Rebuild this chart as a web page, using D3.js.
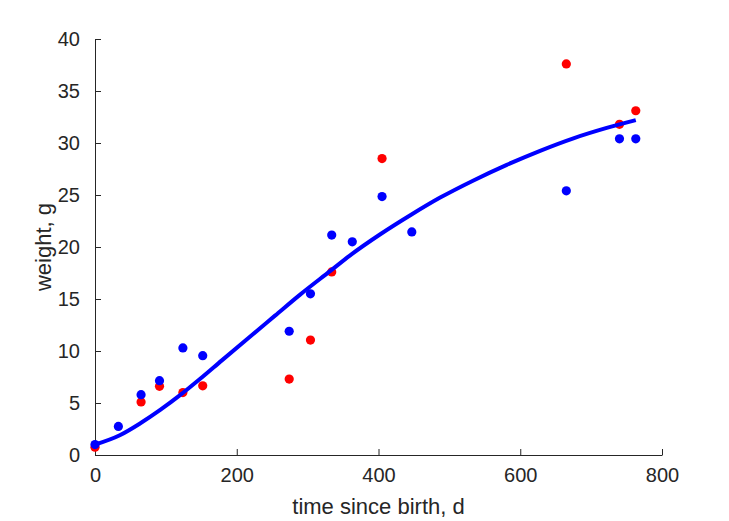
<!DOCTYPE html>
<html>
<head>
<meta charset="utf-8">
<script src="https://cdn.jsdelivr.net/npm/d3@7"></script>
<style>
  html, body { margin: 0; padding: 0; background: #ffffff; }
  svg { display: block; }
</style>
</head>
<body>
<svg id="chart" width="729" height="521"></svg>
<script>
// ---- data ----
const redDays    = [0, 65, 91, 124, 152, 274, 304, 334, 405, 665, 740, 763];
const redWeight  = [0.75, 5.1, 6.6, 6.0, 6.65, 7.3, 11.05, 17.6, 28.5, 37.6, 31.8, 33.1];

const blueDays   = [0, 33, 65, 91, 124, 152, 274, 304, 334, 363, 405, 447, 665, 740, 763];
const blueWeight = [1.0, 2.75, 5.8, 7.15, 10.3, 9.55, 11.9, 15.5, 21.15, 20.5, 24.85, 21.45, 25.4, 30.4, 30.4];

const fitDays    = [0, 35, 64, 92, 120, 148, 179, 219, 254, 289, 332, 360, 402, 446, 487, 534, 581, 628, 675, 722, 763];
const fitWeight  = [1.0, 1.9, 3.05, 4.33, 5.75, 7.3, 9.1, 11.4, 13.4, 15.4, 17.7, 19.2, 21.2, 23.1, 24.75, 26.4, 27.9, 29.25, 30.45, 31.45, 32.2];

const xTicks = [0, 200, 400, 600, 800];
const yTicks = [0, 5, 10, 15, 20, 25, 30, 35, 40];
const xLabel = "time since birth, d";
const yLabel = "weight, g";

(function () {
  // ---- layout ----
  const svg = d3.select("#chart");
  const mLeft = 95, mRight = 662, mTop = 39, mBottom = 455;
  const axisColor = "#262626";
  const font = "'Liberation Sans', Arial, Helvetica, sans-serif";

  const x = d3.scaleLinear().domain([0, 800]).range([mLeft, mRight]);
  const y = d3.scaleLinear().domain([0, 40]).range([mBottom, mTop]);

  // axes
  const xAxis = d3.axisBottom(x).tickValues(xTicks).tickSizeInner(-6).tickSizeOuter(0).tickPadding(13);
  const yAxis = d3.axisLeft(y).tickValues(yTicks).tickSizeInner(-6).tickSizeOuter(0).tickPadding(15);

  const gx = svg.append("g").attr("transform", `translate(0,${mBottom})`).call(xAxis);
  const gy = svg.append("g").attr("transform", `translate(${mLeft},0)`).call(yAxis);

  [gx, gy].forEach(g => {
    g.select(".domain").attr("stroke", axisColor).attr("stroke-width", 1);
    g.selectAll(".tick line").attr("stroke", axisColor).attr("stroke-width", 1);
    g.selectAll(".tick text").attr("fill", axisColor).attr("font-family", font).attr("font-size", 20);
  });

  // axis labels
  svg.append("text")
    .attr("x", (mLeft + mRight) / 2).attr("y", 514)
    .attr("text-anchor", "middle")
    .attr("font-family", font).attr("font-size", 22).attr("fill", axisColor)
    .text(xLabel);

  svg.append("text")
    .attr("transform", `translate(51,${(mTop + mBottom) / 2}) rotate(-90)`)
    .attr("text-anchor", "middle")
    .attr("font-family", font).attr("font-size", 22).attr("fill", axisColor)
    .text(yLabel);

  // points
  const r = 4.6;
  svg.append("g").selectAll("circle")
    .data(d3.zip(redDays, redWeight)).join("circle")
    .attr("cx", d => x(d[0])).attr("cy", d => y(d[1])).attr("r", r)
    .attr("fill", "#ff0000");

  svg.append("g").selectAll("circle")
    .data(d3.zip(blueDays, blueWeight)).join("circle")
    .attr("cx", d => x(d[0])).attr("cy", d => y(d[1])).attr("r", r)
    .attr("fill", "#0000ff");

  // fitted curve
  const line = d3.line().x(d => x(d[0])).y(d => y(d[1])).curve(d3.curveMonotoneX);
  svg.append("path")
    .datum(d3.zip(fitDays, fitWeight))
    .attr("d", line)
    .attr("fill", "none")
    .attr("stroke", "#0000ff")
    .attr("stroke-width", 4)
    .attr("stroke-linejoin", "round");
})();
</script>
</body>
</html>
